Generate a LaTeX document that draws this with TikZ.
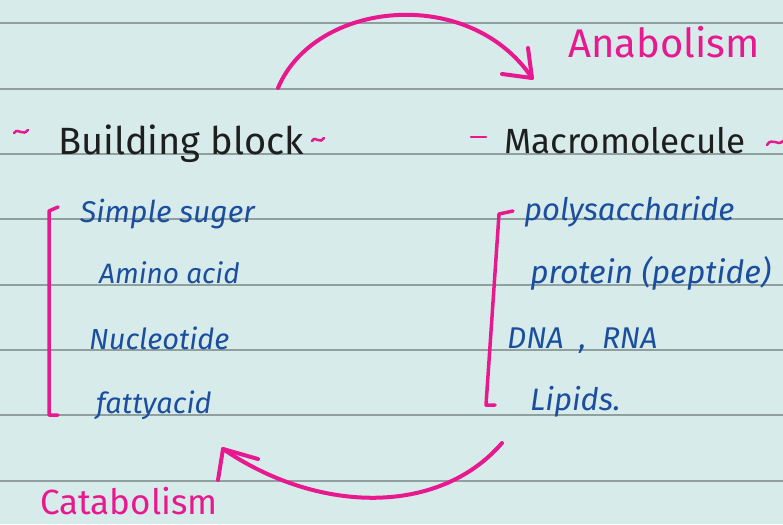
\documentclass[tikz,border=0pt]{standalone}
\usepackage{fontspec}
\setmainfont{Fira Sans}
\definecolor{paper}{HTML}{D6EBEA}
\definecolor{rule}{HTML}{8FA09F}
\definecolor{pinkink}{HTML}{E8198F}
\definecolor{blueink}{HTML}{1B4E9E}
\definecolor{blackink}{HTML}{1E1E1E}
\newcommand{\fsz}[1]{\fontsize{#1}{#1}\selectfont}
\tikzset{
  heading/.style={text=blackink, anchor=base west, inner sep=0pt},
  item/.style={text=blueink, font=\itshape, anchor=base west, inner sep=0pt},
  pinktext/.style={text=pinkink, anchor=base west, inner sep=0pt},
  pinkline/.style={draw=pinkink, line width=4pt, line cap=round, line join=round},
  tildeline/.style={draw=pinkink, line width=2.5pt, line cap=round},
  ruleline/.style={draw=rule, line width=1.1pt}
}
\begin{document}
\begin{tikzpicture}[x=1pt,y=-1pt]
\useasboundingbox (0,0) rectangle (783,524);
\fill[paper] (0,0) rectangle (783,524);
% ruled lines
\foreach \yy in {23,89,154,219,285,350,415,481}
  \draw[ruleline] (0,\yy) -- (783,\yy);

% headings
\node[heading, font=\fsz{38}] (bb) at (58,154) {Building block};
\node[heading, font=\fsz{35}] (mm) at (504,153) {Macromolecule};

% pink tildes and dashes beside the headings
\coordinate (t1) at (14,133);
\draw[tildeline] (t1) .. controls +(3,-4) and +(-3,0) .. +(7,-1) .. controls +(3,1) and +(-3,3) .. +(14,-3);
\coordinate (t2) at (312,141);
\draw[tildeline] (t2) .. controls +(3,-4) and +(-3,0) .. +(6,-1) .. controls +(3,1) and +(-3,3) .. +(12,-3);
\coordinate (t3) at (471,137);
\draw[tildeline] (t3) -- +(15,0);
\coordinate (t4) at (767,145);
\draw[tildeline] (t4) .. controls +(3,-5) and +(-3,0) .. +(8,-3) .. controls +(3,1) and +(-3,3) .. +(16,-4);

% pink labels
\node[pinktext, font=\fsz{40}] (ana) at (568,58) {Anabolism};
\node[pinktext, font=\fsz{35}] (cata) at (40,514) {Catabolism};

% left list
\node[item, font=\itshape\fsz{30}] (s1) at (80,222) {Simple suger};
\node[item, font=\itshape\fsz{28}] (s2) at (99,283) {Amino acid};
\node[item, font=\itshape\fsz{29}] (s3) at (89,349) {Nucleotide};
\node[item, font=\itshape\fsz{29}] (s4) at (96,413) {fattyacid};

% right list
\node[item, font=\itshape\fsz{31}] (m1) at (524,220) {polysaccharide};
\node[item, font=\itshape\fsz{32}] (m2) at (530,283) {protein (peptide)};
\node[item, font=\itshape\fsz{30}] (m3) at (507,348) {DNA\ \ ,\ \ RNA};
\node[item, font=\itshape\fsz{31}] (m4) at (530,410) {Lipids.};

% brackets
\coordinate (lb1) at (58,207);
\coordinate (lb2) at (49,211);
\coordinate (lb3) at (49,415);
\coordinate (lb4) at (58,415);
\draw[pinkline, line width=3.5pt] (lb1) -- (lb2) -- (lb3) -- (lb4);
\coordinate (rb1) at (513,211);
\coordinate (rb2) at (499,214);
\coordinate (rb3) at (486,405);
\coordinate (rb4) at (495,405);
\draw[pinkline, line width=3.5pt] (rb1) -- (rb2) -- (rb3) -- (rb4);

% anabolism arrow
\coordinate (a0) at (278,88);
\coordinate (a1) at (532,78);
\coordinate (a1u) at (528,48);
\coordinate (a1l) at (502,74);
\draw[pinkline] (a0) .. controls (315,0) and (470,-15) .. (a1);
\draw[pinkline] (a1u) -- (a1) -- (a1l);

% catabolism arrow
\coordinate (c0) at (502,443);
\coordinate (c1) at (223,449);
\coordinate (c1r) at (258,459);
\coordinate (c1d) at (218,480);
\draw[pinkline] (c0) .. controls (440,515) and (320,515) .. (c1);
\draw[pinkline] (c1r) -- (c1) -- (c1d);
\end{tikzpicture}
\end{document}
